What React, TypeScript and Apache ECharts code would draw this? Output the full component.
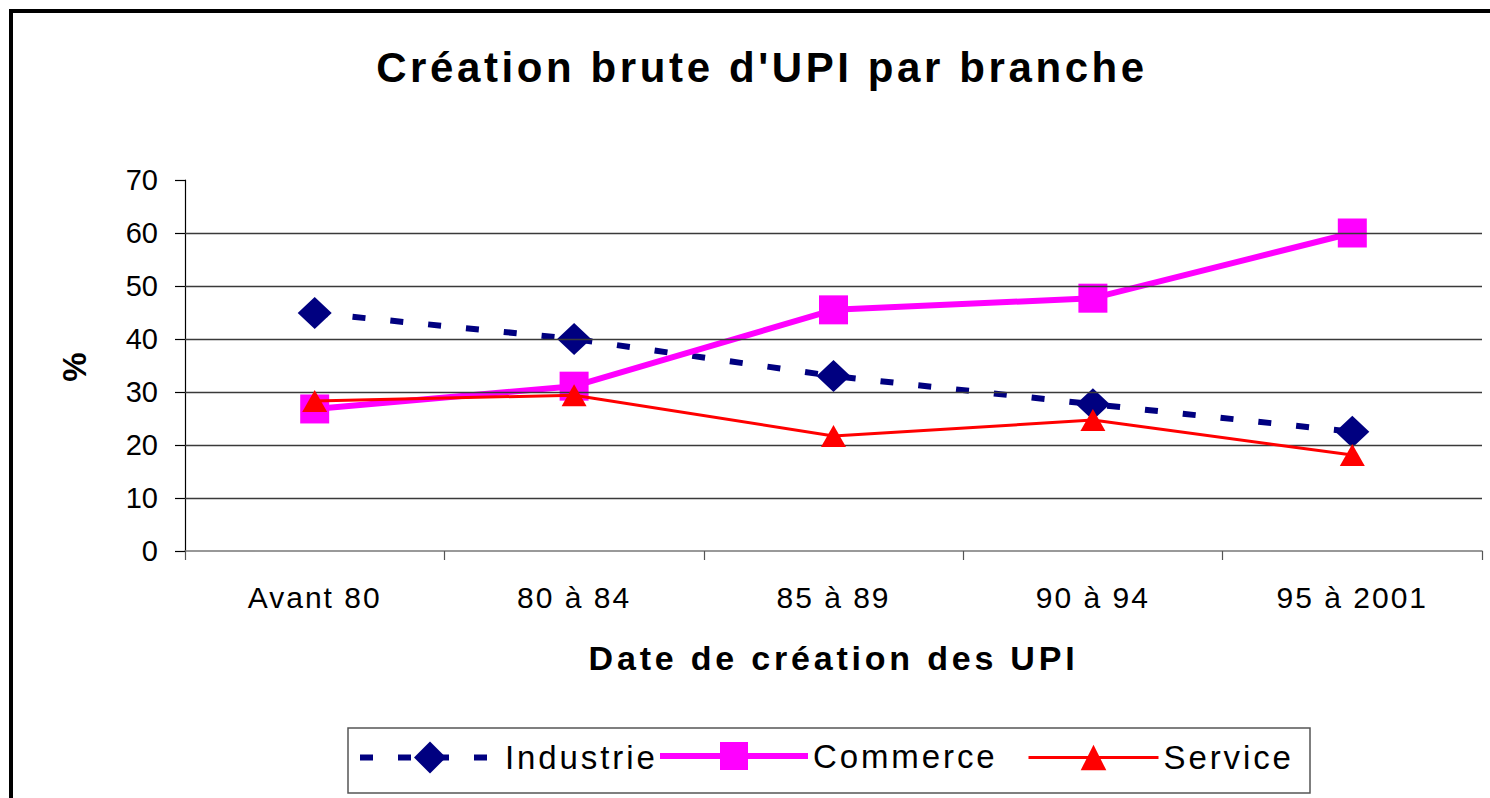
import React, { useEffect, useRef } from "react";
import * as echarts from "echarts";

const categories = ["Avant 80", "80 à 84", "85 à 89", "90 à 94", "95 à 2001"];
const industrie = [44.9, 40, 33, 27.7, 22.5];
const commerce = [26.8, 31.1, 45.5, 47.7, 60];
const service = [28.3, 29.4, 21.7, 24.7, 18.1];
const gridValues = [10, 20, 30, 40, 50, 60];
const yMin = 0;
const yMax = 70;
const yInterval = 10;

const FONT = "'Liberation Sans', Arial, sans-serif";

const css = `
#chart-root text[style*="42px"] { letter-spacing: 3.6px; }
#chart-root text[style*="34px"] { letter-spacing: 3.8px; }
#chart-root text[style*="30px"] { letter-spacing: 2px; }
#chart-root text[style*="33px"] { letter-spacing: 2.9px; }
`;

export default function App() {
  const ref = useRef<HTMLDivElement>(null);

  useEffect(() => {
    if (!ref.current) return;
    const chart = echarts.init(ref.current, null, { renderer: "svg" });

    const legendBase = {
      orient: "horizontal",
      padding: 0,
      selectedMode: false,
      z: 10,
      textStyle: { fontFamily: FONT, fontSize: 33, color: "#000" },
    };

    const option = {
      animation: false,
      backgroundColor: "#fff",
      graphic: [
        {
          type: "rect",
          z: -10,
          silent: true,
          shape: { x: 11, y: 11, width: 1500, height: 800 },
          style: { fill: "none", stroke: "#000", lineWidth: 4 },
        },
        {
          type: "rect",
          z: 1,
          silent: true,
          shape: { x: 348, y: 728, width: 962, height: 65 },
          style: { fill: "#fff", stroke: "#555", lineWidth: 1.5 },
        },
        {
          type: "text",
          x: 762,
          y: 67,
          silent: true,
          style: {
            text: "Création brute d'UPI par branche",
            fontFamily: FONT,
            fontSize: 42,
            fontWeight: "bold",
            fill: "#000",
            textAlign: "center",
            textVerticalAlign: "middle",
          },
        },
      ],
      legend: [
        {
          ...legendBase,
          data: ["Industrie"],
          left: 357,
          top: 741,
          itemWidth: 140,
          itemHeight: 40,
          lineStyle: { width: 6, type: [13, 25] },
        },
        {
          ...legendBase,
          data: ["Commerce"],
          left: 657,
          top: 757 - 17.5,
          itemWidth: 148,
          itemHeight: 35,
          lineStyle: { width: 6 },
        },
        {
          ...legendBase,
          data: ["Service"],
          left: 1027,
          top: 757 - 16,
          itemWidth: 130,
          itemHeight: 32,
          lineStyle: { width: 3 },
        },
      ],
      grid: { left: 185, right: 8, top: 180, bottom: 247, containLabel: false },
      xAxis: {
        type: "category",
        data: categories,
        boundaryGap: true,
        name: "Date de création des UPI",
        nameLocation: "middle",
        nameGap: 90,
        nameTextStyle: { fontFamily: FONT, fontSize: 34, fontWeight: "bold", color: "#000" },
        axisLine: { show: true, lineStyle: { color: "#777", width: 1.5 } },
        axisTick: { show: true, length: 9, interval: 0, lineStyle: { color: "#555", width: 1.2 } },
        axisLabel: { fontFamily: FONT, fontSize: 30, color: "#000", margin: 31, interval: 0 },
        splitLine: { show: false },
      },
      yAxis: {
        type: "value",
        min: yMin,
        max: yMax,
        interval: yInterval,
        name: "%",
        nameLocation: "middle",
        nameGap: 94,
        nameRotate: 90,
        nameTextStyle: { fontFamily: FONT, fontSize: 33, fontWeight: "bold", color: "#000" },
        axisLine: { show: true, lineStyle: { color: "#000", width: 1.2 } },
        axisTick: { show: true, length: 10, lineStyle: { color: "#000", width: 1.2 } },
        axisLabel: { fontFamily: FONT, fontSize: 29, color: "#000", margin: 27 },
        splitLine: { show: false },
      },
      series: [
        {
          name: "grille",
          type: "line",
          data: [],
          z: 1,
          silent: true,
          markLine: {
            silent: true,
            symbol: ["none", "none"],
            label: { show: false },
            lineStyle: { color: "#3a3a3a", width: 1.3, type: "solid" },
            emphasis: { disabled: true },
            data: gridValues.map((v) => ({ yAxis: v })),
          },
        },
        {
          name: "Industrie",
          type: "line",
          data: industrie,
          z: 3,
          symbol: "diamond",
          symbolSize: [34, 32],
          itemStyle: { color: "#000080" },
          lineStyle: { color: "#000080", width: 6, type: [13, 25] },
        },
        {
          name: "Commerce",
          type: "line",
          data: commerce,
          z: 4,
          symbol: "rect",
          symbolSize: 29,
          itemStyle: { color: "#FF00FF" },
          lineStyle: { color: "#FF00FF", width: 6 },
        },
        {
          name: "Service",
          type: "line",
          data: service,
          z: 5,
          symbol: "triangle",
          symbolSize: [25, 22],
          itemStyle: { color: "#FF0000" },
          lineStyle: { color: "#FF0000", width: 3 },
        },
      ],
    };

    chart.setOption(option as any);
    return () => {
      chart.dispose();
    };
  }, []);

  return (
    <>
      <style>{css}</style>
      <div
        id="chart-root"
        ref={ref}
        style={{ position: "absolute", left: 0, top: 0, width: 1490, height: 798 }}
      />
    </>
  );
}
